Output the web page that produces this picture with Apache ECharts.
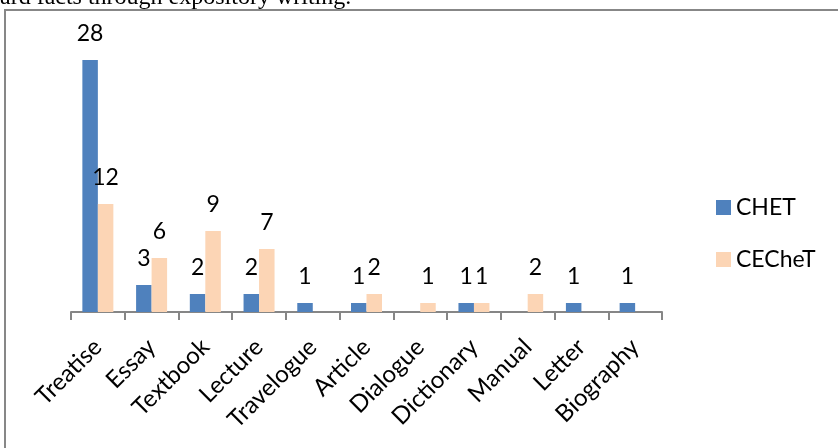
<!DOCTYPE html>
<html>
<head>
<meta charset="utf-8">
<script src="https://cdn.jsdelivr.net/npm/echarts@6/dist/echarts.min.js"></script>
<style>
  html, body { margin: 0; padding: 0; background: #fff; }
  #chart { width: 838px; height: 448px; }
</style>
</head>
<body>
<div id="chart"></div>
<script>
// Text genres and counts per corpus
const categories = ['Treatise', 'Essay', 'Textbook', 'Lecture', 'Travelogue', 'Article',
                    'Dialogue', 'Dictionary', 'Manual', 'Letter', 'Biography'];
const chetValues   = [28, 3, 2, 2, 1, 1, null, 1, null, 1, 1];
const cechetValues = [12, 6, 9, 7, null, 2, 1, 1, 2, null, null];
const seriesNames  = ['CHET', 'CECheT'];
const captionText  = 'ard facts through expository writing.';

const FONT = 'Lato, "Open Sans", sans-serif';

const chart = echarts.init(document.getElementById('chart'), null, { renderer: 'canvas' });

const labelStyle = {
  show: true,
  position: 'top',
  distance: 15,
  color: '#000',
  fontFamily: FONT,
  fontSize: 23
};

chart.setOption({
  animation: false,
  backgroundColor: '#fff',
  graphic: [
    {
      type: 'text',
      left: 0,
      top: -14,
      style: {
        text: captionText,
        fontFamily: '"Liberation Serif", "Times New Roman", serif',
        fontSize: 24,
        fill: '#000'
      }
    },
    {
      type: 'rect',
      shape: { x: 5, y: 10, width: 900, height: 500 },
      style: { fill: 'none', stroke: '#878787', lineWidth: 2 }
    }
  ],
  legend: {
    orient: 'vertical',
    left: 711,
    top: 191,
    itemWidth: 15,
    itemHeight: 15,
    itemGap: 29,
    icon: 'rect',
    textStyle: { fontFamily: FONT, fontSize: 23, color: '#000' },
    data: seriesNames
  },
  grid: { left: 71, top: 42, width: 591, height: 270, containLabel: false },
  xAxis: {
    type: 'category',
    data: categories,
    axisLine: { lineStyle: { color: '#868686', width: 2 } },
    axisTick: { show: true, length: 8, lineStyle: { color: '#868686', width: 2 } },
    axisLabel: {
      rotate: 45,
      interval: 0,
      margin: 31,
      color: '#000',
      fontFamily: FONT,
      fontSize: 24
    }
  },
  yAxis: {
    type: 'value',
    min: 0,
    max: 30,
    show: false,
    splitLine: { show: false }
  },
  series: [
    {
      name: seriesNames[0],
      type: 'bar',
      data: chetValues,
      barWidth: 15.5,
      barGap: '0%',
      itemStyle: { color: '#4F81BD' },
      label: labelStyle
    },
    {
      name: seriesNames[1],
      type: 'bar',
      data: cechetValues,
      barWidth: 15.5,
      barGap: '0%',
      itemStyle: { color: '#FCD5B5' },
      label: labelStyle
    }
  ]
});
</script>
</body>
</html>
